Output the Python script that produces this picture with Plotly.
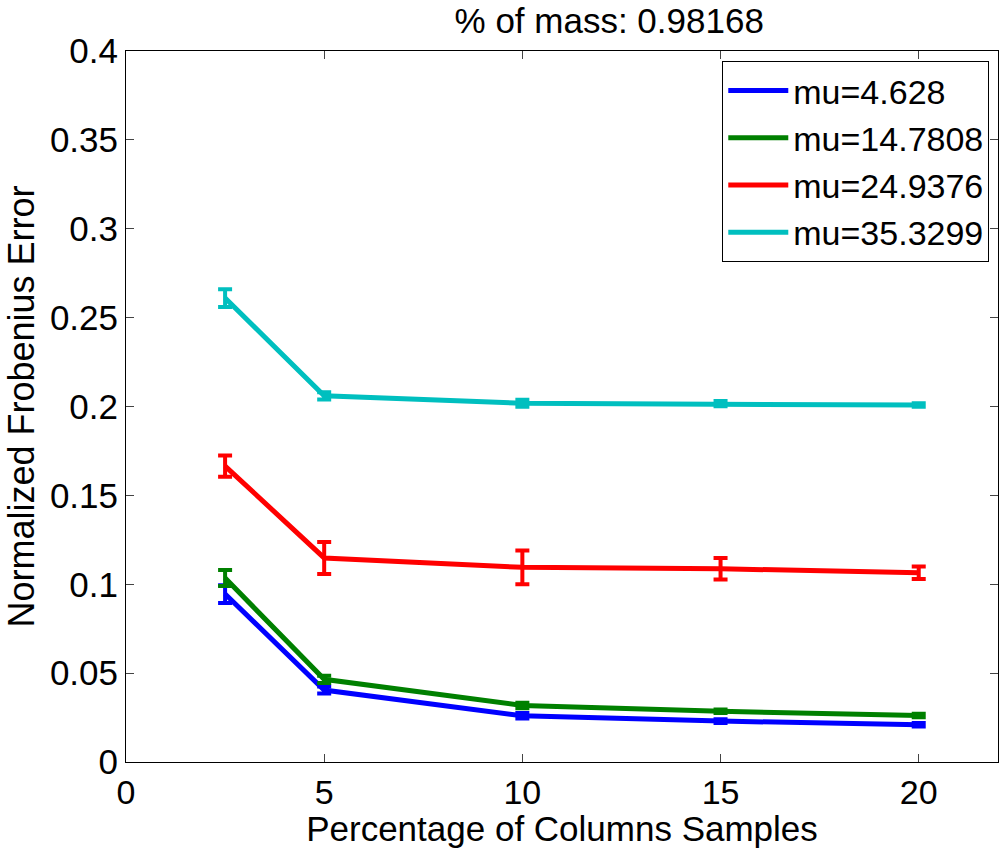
import plotly.graph_objects as go

x = [2.5, 5, 10, 15, 20]
names = ["mu=4.628", "mu=14.7808", "mu=24.9376", "mu=35.3299"]
colors = ["#0000ff", "#008000", "#ff0000", "#00bfbf"]
y_blue = [0.0945, 0.0405, 0.026, 0.023, 0.021]
e_blue = [0.005, 0.002, 0.0015, 0.001, 0.001]
y_green = [0.1035, 0.0465, 0.0318, 0.0285, 0.0262]
e_green = [0.0045, 0.002, 0.0015, 0.001, 0.001]
y_red = [0.1665, 0.1148, 0.1095, 0.1087, 0.1065]
e_red = [0.006, 0.009, 0.0095, 0.006, 0.0035]
y_cyan = [0.261, 0.206, 0.2018, 0.2016, 0.2008]
e_cyan = [0.005, 0.002, 0.002, 0.0015, 0.001]

series_y = [y_blue, y_green, y_red, y_cyan]
series_e = [e_blue, e_green, e_red, e_cyan]

fig = go.Figure()
for n, c, yy, ee in zip(names, colors, series_y, series_e):
    fig.add_trace(go.Scatter(
        x=x, y=yy, name=n, mode="lines",
        line=dict(color=c, width=5),
        error_y=dict(type="data", array=ee, visible=True, color=c, thickness=4, width=7),
    ))

font = "Liberation Sans, Arial, sans-serif"
fig.update_layout(
    width=1002, height=848,
    margin=dict(l=126, r=4, t=51, b=86),
    paper_bgcolor="white", plot_bgcolor="white",
    font=dict(family=font, size=35, color="black"),
    title=dict(text="% of mass: 0.98168", xref="container", x=0.608, xanchor="center",
               yref="container", y=0.976, yanchor="middle",
               font=dict(size=35)),
    xaxis=dict(range=[0, 22], tickvals=[0, 5, 10, 15, 20], ticks="inside", ticklen=8,
               showline=True, linecolor="black", linewidth=1, mirror="ticks",
               showgrid=False, zeroline=False, tickfont=dict(size=34),
               title=dict(text="Percentage of Columns Samples", standoff=6, font=dict(size=35))),
    yaxis=dict(range=[0, 0.4], tickvals=[0, 0.05, 0.1, 0.15, 0.2, 0.25, 0.3, 0.35, 0.4],
               ticktext=["0", "0.05", "0.1", "0.15", "0.2", "0.25", "0.3", "0.35", "0.4"],
               ticks="inside", ticklen=8, tickfont=dict(size=35),
               showline=True, linecolor="black", linewidth=1, mirror="ticks",
               showgrid=False, zeroline=False,
               title=dict(text="Normalized Frobenius Error", standoff=4, font=dict(size=36))),
    legend=dict(x=0.99, y=0.986, xanchor="right", yanchor="top",
                bordercolor="black", borderwidth=1, bgcolor="white",
                font=dict(size=34), tracegroupgap=0, itemwidth=60),
    showlegend=True,
)

fig.write_html("out.html")
